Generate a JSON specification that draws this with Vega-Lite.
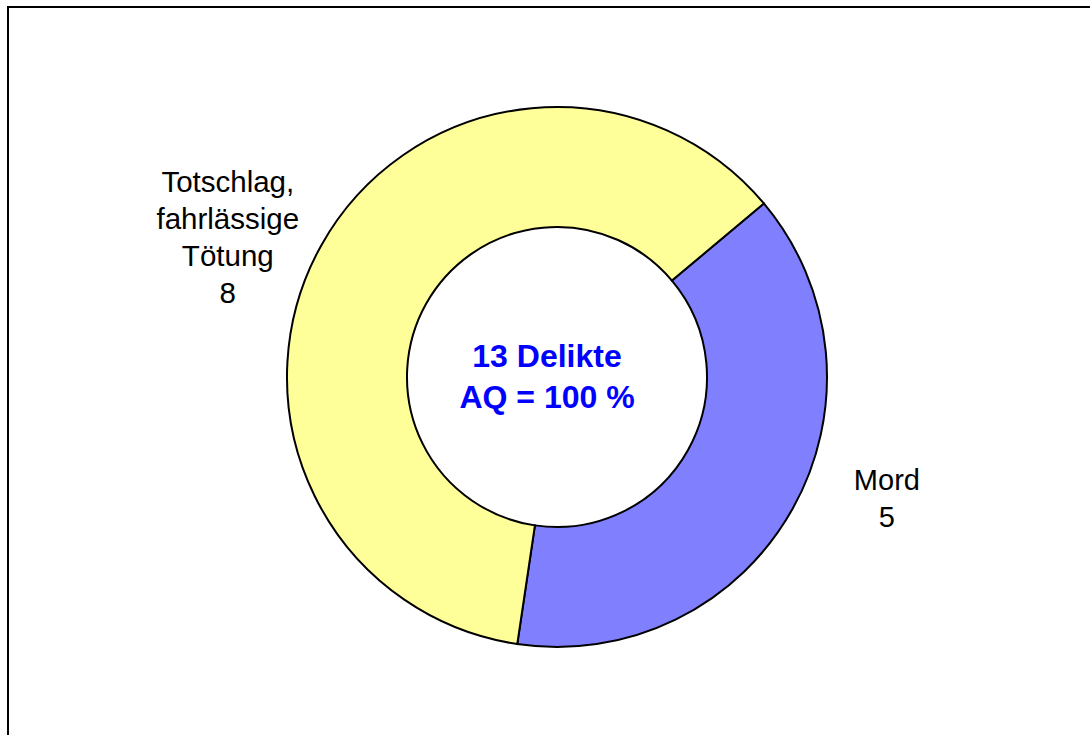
{
  "$schema": "https://vega.github.io/schema/vega-lite/v6.json",
  "width": 1090,
  "height": 735,
  "autosize": {"type": "fit", "contains": "padding"},
  "padding": {"left": 7, "top": 6, "right": -17, "bottom": -13},
  "background": "white",
  "config": {
    "view": {"stroke": null},
    "font": "Liberation Sans"
  },
  "layer": [
    {
      "data": {"values": [{"frame": 1}]},
      "mark": {"type": "rect", "fill": null, "fillOpacity": 0, "stroke": "black", "strokeWidth": 2},
      "encoding": {}
    },
    {
      "data": {"values": [
        {"cat": "Mord", "n": 5, "ord": 1, "label": "Mord\n5"},
        {"cat": "Totschlag, fahrlässige Tötung", "n": 8, "ord": 2, "label": "Totschlag,\nfahrlässige\nTötung\n8"}
      ]},
      "layer": [
        {
          "mark": {"type": "arc", "outerRadius": 270, "innerRadius": 150, "stroke": "black", "strokeWidth": 2},
          "encoding": {
            "theta": {"field": "n", "type": "quantitative", "stack": true, "scale": {"domain": [0, 13], "range": [0.8727, 7.1559]}},
            "order": {"field": "ord", "type": "ordinal"},
            "color": {"field": "cat", "type": "nominal", "legend": null, "scale": {"domain": ["Mord", "Totschlag, fahrlässige Tötung"], "range": ["#8080FF", "#FFFF99"]}}
          }
        },
        {
          "mark": {"type": "text", "radius": 352, "thetaOffset": -0.154, "dy": -18.5, "fontSize": 29, "lineHeight": 37, "lineBreak": "\n", "color": "black", "align": "center", "baseline": "middle"},
          "encoding": {
            "theta": {"field": "n", "type": "quantitative", "stack": true},
            "order": {"field": "ord", "type": "ordinal"},
            "detail": {"field": "cat", "type": "nominal"},
            "text": {"condition": {"test": "datum.cat === 'Mord'", "field": "label"}, "value": ""}
          }
        },
        {
          "mark": {"type": "text", "radius": 357, "thetaOffset": -0.113, "dy": -55.5, "fontSize": 29.5, "lineHeight": 37, "lineBreak": "\n", "color": "black", "align": "center", "baseline": "middle"},
          "encoding": {
            "theta": {"field": "n", "type": "quantitative", "stack": true},
            "order": {"field": "ord", "type": "ordinal"},
            "detail": {"field": "cat", "type": "nominal"},
            "text": {"condition": {"test": "datum.cat !== 'Mord'", "field": "label"}, "value": ""}
          }
        }
      ]
    },
    {
      "data": {"values": [{"t": "13 Delikte\nAQ = 100 %"}]},
      "mark": {"type": "text", "fontSize": 32, "fontWeight": "bold", "lineHeight": 41, "lineBreak": "\n", "color": "#0000FF", "align": "center", "baseline": "middle", "dx": -10, "dy": -20.5},
      "encoding": {"text": {"field": "t", "type": "nominal"}}
    }
  ]
}
